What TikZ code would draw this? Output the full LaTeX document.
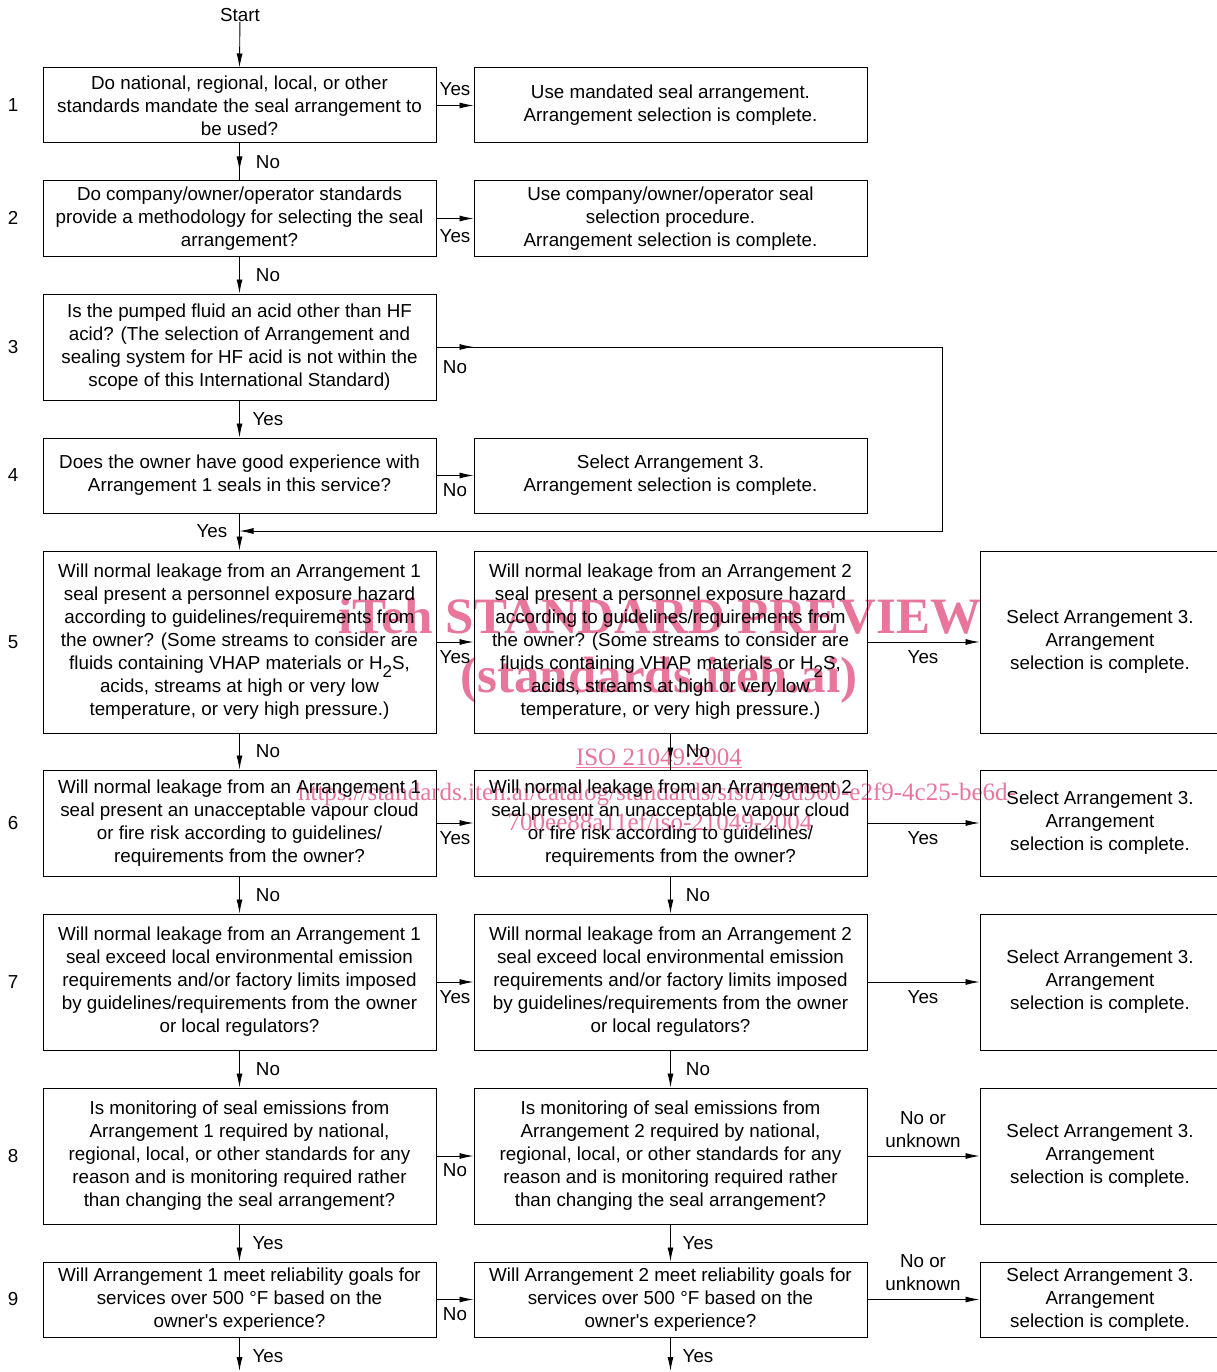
\documentclass[tikz,border=0pt]{standalone}
\usepackage{fontspec}
\setmainfont{Liberation Sans}
\newfontfamily\wmfont{Liberation Serif}
\usetikzlibrary{arrows.meta}
\definecolor{wm}{RGB}{232,118,155}
\newcommand{\hsub}{H\raisebox{-8pt}{\fontsize{17}{17}\selectfont 2}S}
\begin{document}
\begin{tikzpicture}[x=1pt,y=-1pt,
  txt/.style={font=\fontsize{18.8}{23}\selectfont, inner sep=0pt, align=center},
  box/.style={txt, draw, line width=1pt},
  colA/.style={box, minimum width=393pt},
  colC/.style={box, minimum width=240pt},
  arr/.style={line width=0.9pt, -{Latex[length=14pt,width=6pt]}},
  ln/.style={line width=0.9pt},
  wmtxt/.style={text=wm, inner sep=0pt, anchor=base}]
\useasboundingbox (0,0) rectangle (1216,1372);

% watermark
\node[wmtxt, font=\wmfont\bfseries\fontsize{51}{51}\selectfont] (wm1) at (660,633) {iTeh STANDARD PREVIEW};
\node[wmtxt, font=\wmfont\bfseries\fontsize{51}{51}\selectfont] (wm2) at (659,692) {(standards.iteh.ai)};
\node[wmtxt, font=\wmfont\fontsize{25}{25}\selectfont] (wm3) at (659,765) {\underline{ISO 21049:2004}};
\node[wmtxt, font=\wmfont\fontsize{25}{25}\selectfont] (wm4) at (657,800) {https://standards.iteh.ai/catalog/standards/sist/f78d960-e2f9-4c25-be6d-};
\node[wmtxt, font=\wmfont\fontsize{25}{25}\selectfont] (wm5) at (660,830) {700ee88a11ef/iso-21049-2004};

% start
\node[txt] (start) at (240,15) {Start};

% column 1
\node[colA, minimum height=75pt] (b1) at (239.5,105.5) {Do national, regional, local, or other\\standards mandate the seal arrangement to\\be used?};
\node[colA, minimum height=75pt] (b2) at (239.5,218.5) {Do company/owner/operator standards\\provide a methodology for selecting the seal\\arrangement?};
\node[colA, minimum height=106pt] (b3) at (239.5,347) {Is the pumped fluid an acid other than HF\\acid? (The selection of Arrangement and\\sealing system for HF acid is not within the\\scope of this International Standard)};
\node[colA, minimum height=75pt] (b4) at (239.5,475.5) {Does the owner have good experience with\\Arrangement 1 seals in this service?};
\node[colA, minimum height=182pt] (b5) at (239.5,642) {Will normal leakage from an Arrangement 1\\seal present a personnel exposure hazard\\according to guidelines/requirements from\\the owner? (Some streams to consider are\\fluids containing VHAP materials or \hsub,\\acids, streams at high or very low\\temperature, or very high pressure.)};
\node[colA, minimum height=106pt] (b6) at (239.5,823) {Will normal leakage from an Arrangement 1\\seal present an unacceptable vapour cloud\\or fire risk according to guidelines/\\requirements from the owner?};
\node[colA, minimum height=136pt] (b7) at (239.5,982) {Will normal leakage from an Arrangement 1\\seal exceed local environmental emission\\requirements and/or factory limits imposed\\by guidelines/requirements from the owner\\or local regulators?};
\node[colA, minimum height=136pt] (b8) at (239.5,1156) {Is monitoring of seal emissions from\\Arrangement 1 required by national,\\regional, local, or other standards for any\\reason and is monitoring required rather\\than changing the seal arrangement?};
\node[colA, minimum height=75pt] (b9) at (239.5,1299.5) {Will Arrangement 1 meet reliability goals for\\services over 500 \textdegree F based on the\\owner\textquotesingle s experience?};

% column 2
\node[colA, minimum height=75pt] (r1) at (670.5,105.5) {Use mandated seal arrangement.\\Arrangement selection is complete.};
\node[colA, minimum height=75pt] (r2) at (670.5,218.5) {Use company/owner/operator seal\\selection procedure.\\Arrangement selection is complete.};
\node[colA, minimum height=75pt] (r4) at (670.5,475.5) {Select Arrangement 3.\\Arrangement selection is complete.};
\node[colA, minimum height=182pt] (m5) at (670.5,642) {Will normal leakage from an Arrangement 2\\seal present a personnel exposure hazard\\according to guidelines/requirements from\\the owner? (Some streams to consider are\\fluids containing VHAP materials or \hsub,\\acids, streams at high or very low\\temperature, or very high pressure.)};
\node[colA, minimum height=106pt] (m6) at (670.5,823) {Will normal leakage from an Arrangement 2\\seal present an unacceptable vapour cloud\\or fire risk according to guidelines/\\requirements from the owner?};
\node[colA, minimum height=136pt] (m7) at (670.5,982) {Will normal leakage from an Arrangement 2\\seal exceed local environmental emission\\requirements and/or factory limits imposed\\by guidelines/requirements from the owner\\or local regulators?};
\node[colA, minimum height=136pt] (m8) at (670.5,1156) {Is monitoring of seal emissions from\\Arrangement 2 required by national,\\regional, local, or other standards for any\\reason and is monitoring required rather\\than changing the seal arrangement?};
\node[colA, minimum height=75pt] (m9) at (670.5,1299.5) {Will Arrangement 2 meet reliability goals for\\services over 500 \textdegree F based on the\\owner\textquotesingle s experience?};

% column 3
\node[colC, minimum height=182pt] (c5) at (1100,642) {Select Arrangement 3.\\Arrangement\\selection is complete.};
\node[colC, minimum height=106pt] (c6) at (1100,823) {Select Arrangement 3.\\Arrangement\\selection is complete.};
\node[colC, minimum height=136pt] (c7) at (1100,982) {Select Arrangement 3.\\Arrangement\\selection is complete.};
\node[colC, minimum height=136pt] (c8) at (1100,1156) {Select Arrangement 3.\\Arrangement\\selection is complete.};
\node[colC, minimum height=75pt] (c9) at (1100,1299.5) {Select Arrangement 3.\\Arrangement\\selection is complete.};

% row numbers
\foreach \n/\y in {1/105,2/218,3/347,4/475,5/642,6/823,7/982,8/1156,9/1299}
  \node[txt] (num\n) at (13,\y) {\n};

% coordinates
\coordinate (loopA) at (942,347);
\coordinate (loopB) at (942,531);
\coordinate (merge) at (239.5,531);
\coordinate (endA) at (239.5,1371);
\coordinate (endB) at (670.5,1371);

% vertical connectors column 1
\draw[arr] (start) -- (b1.north);
\draw[ln] (b1.south) -- (b2.north);
\draw[arr] (b1.south) -- ([yshift=10pt]b2.north);
\draw[arr] (b2.south) -- (b3.north);
\draw[arr] (b3.south) -- (b4.north);
\draw[arr] (b4.south) -- (b5.north);
\draw[arr] (b5.south) -- (b6.north);
\draw[arr] (b6.south) -- (b7.north);
\draw[arr] (b7.south) -- (b8.north);
\draw[arr] (b8.south) -- (b9.north);
\draw[arr] (b9.south) -- (endA);

% vertical connectors column 2
\draw[ln] (m5.south) -- (m6.north);
\draw[arr] (m5.south) -- ([yshift=8pt]m6.north);
\draw[arr] (m6.south) -- (m7.north);
\draw[arr] (m7.south) -- (m8.north);
\draw[arr] (m8.south) -- (m9.north);
\draw[arr] (m9.south) -- (endB);

% horizontal connectors
\draw[arr] (b1.east) -- (r1.west);
\draw[arr] (b2.east) -- (r2.west);
\draw[arr] (b4.east) -- (r4.west);
\draw[arr] (b5.east) -- (m5.west);
\draw[arr] (m5.east) -- (c5.west);
\draw[arr] (b6.east) -- (m6.west);
\draw[arr] (m6.east) -- (c6.west);
\draw[arr] (b7.east) -- (m7.west);
\draw[arr] (m7.east) -- (c7.west);
\draw[arr] (b8.east) -- (m8.west);
\draw[arr] (m8.east) -- (c8.west);
\draw[arr] (b9.east) -- (m9.west);
\draw[arr] (m9.east) -- (c9.west);

% loop from box 3
\draw[arr] (b3.east) -- (b3.east -| r4.west);
\draw[arr] (b3.east) -- (loopA) -- (loopB) -- (merge);

% labels
\node[txt] (l1) at (455,89) {Yes};
\node[txt] (l2) at (455,236) {Yes};
\node[txt] (l3) at (455,367) {No};
\node[txt] (l4) at (455,490) {No};
\node[txt] (l5a) at (455,657) {Yes};
\node[txt] (l5b) at (923,657) {Yes};
\node[txt] (l6a) at (455,838) {Yes};
\node[txt] (l6b) at (923,838) {Yes};
\node[txt] (l7a) at (455,997) {Yes};
\node[txt] (l7b) at (923,997) {Yes};
\node[txt] (l8a) at (455,1170) {No};
\node[txt] (l8b) at (923,1130) {No or\\unknown};
\node[txt] (l9a) at (455,1314) {No};
\node[txt] (l9b) at (923,1273) {No or\\unknown};

\node[txt] (v1) at (268,162) {No};
\node[txt] (v2) at (268,275) {No};
\node[txt] (v3) at (268,419) {Yes};
\node[txt] (v4) at (212,531) {Yes};
\node[txt] (v5a) at (268,751) {No};
\node[txt] (v5b) at (698,751) {No};
\node[txt] (v6a) at (268,895) {No};
\node[txt] (v6b) at (698,895) {No};
\node[txt] (v7a) at (268,1069) {No};
\node[txt] (v7b) at (698,1069) {No};
\node[txt] (v8a) at (268,1243) {Yes};
\node[txt] (v8b) at (698,1243) {Yes};
\node[txt] (v9a) at (268,1356) {Yes};
\node[txt] (v9b) at (698,1356) {Yes};
\end{tikzpicture}
\end{document}
